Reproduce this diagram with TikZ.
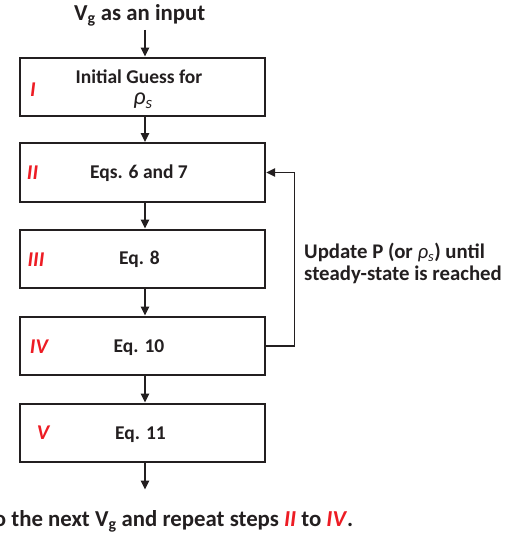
\documentclass[tikz,border=0pt]{standalone}
\usepackage{fontspec}
\setmainfont{Carlito}
\usetikzlibrary{arrows.meta}
\definecolor{ink}{RGB}{35,31,32}
\definecolor{stepred}{RGB}{237,28,36}
\begin{document}
\begin{tikzpicture}[x=1pt,y=-1pt,
  box/.style={draw=ink, line width=2.4pt, minimum width=245pt, minimum height=58.5pt, inner sep=0pt},
  arr/.style={draw=ink, line width=1.3pt, -{Triangle[length=9pt,width=8.5pt]}},
  boxtxt/.style={font=\fontsize{19.5}{23}\selectfont\bfseries, text=ink, inner sep=0pt, anchor=base},
  steplbl/.style={font=\fontsize{21}{24}\selectfont\bfseries\itshape, text=stepred, inner sep=0pt},
  sidetxt/.style={font=\fontsize{20.8}{24}\selectfont\bfseries, text=ink, inner sep=0pt, anchor=base west},
  bigtxt/.style={font=\fontsize{22.8}{27}\selectfont\bfseries, text=ink, inner sep=0pt}
]
\clip (0,0) rectangle (514,537);
% title
\node[bigtxt, anchor=base] (title) at (139.7,20.7) {V\textsubscript{g} as an input};
\coordinate (in) at (145,30);
\coordinate (ax) at (145,0);
% boxes
\node[box] (b1) at (142.5,87) {};
\node[box] (b2) at (142.5,172.5) {};
\node[box] (b3) at (142.5,259) {};
\node[box] (b4) at (142.5,346) {};
\node[box] (b5) at (142.5,433) {};
% box texts
\node[boxtxt] (t1) at (139,83.3) {Initial Guess for};
\node[font=\fontsize{24}{28}\selectfont\itshape, text=ink, inner sep=0pt, anchor=base] (t1b) at (143,105) {ρ\textsubscript{s}};
\node[boxtxt] (t2) at (139,178.5) {Eqs. 6 and 7};
\node[boxtxt] (t3) at (139.5,264.5) {Eq. 8};
\node[boxtxt] (t4) at (139,352) {Eq. 10};
\node[boxtxt] (t5) at (140.5,439) {Eq. 11};
% step labels
\node[steplbl] (s1) at (33,90) {I};
\node[steplbl] (s2) at (32.5,173) {II};
\node[steplbl] (s3) at (36,260) {III};
\node[steplbl] (s4) at (39,347) {IV};
\node[steplbl] (s5) at (43,432.5) {V};
% arrows
\draw[arr] (in) -- (b1.north -| ax);
\draw[arr] (b1.south -| ax) -- (b2.north -| ax);
\draw[arr] (b2.south -| ax) -- (b3.north -| ax);
\draw[arr] (b3.south -| ax) -- (b4.north -| ax);
\draw[arr] (b4.south -| ax) -- (b5.north -| ax);
\coordinate (out) at (145,489.5);
\draw[arr] (b5.south -| ax) -- (out);
% feedback loop
\coordinate (fbx) at (294.3,0);
\draw[arr] (b4.east) -- (b4.east -| fbx) |- (b2.east);
\node[sidetxt] (u1) at (304,258.3) {Update P (or \textmd{\textit{ρ\textsubscript{s}}}) until};
\node[sidetxt] (u2) at (304,280.3) {steady-state is reached};
% bottom text
\node[bigtxt, anchor=base east] (next) at (353.5,526) {Go to the next V\textsubscript{g} and repeat steps \textcolor{stepred}{\textit{II}} to \textcolor{stepred}{\textit{IV}}.};
\end{tikzpicture}
\end{document}
